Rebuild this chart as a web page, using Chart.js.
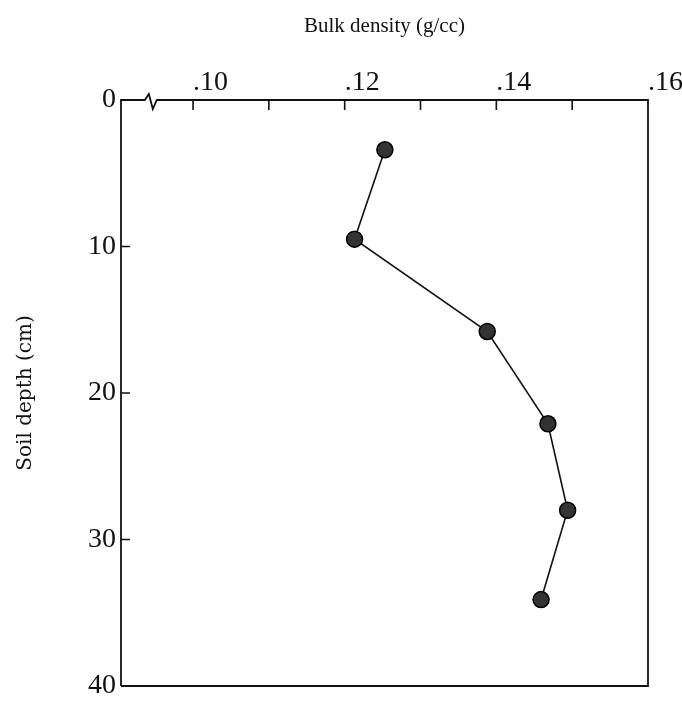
<!DOCTYPE html>
<html>
<head>
<meta charset="utf-8">
<script src="https://cdn.jsdelivr.net/npm/chart.js@4.4.1/dist/chart.umd.min.js"></script>
<style>
html, body { margin: 0; padding: 0; background: #fff; }
</style>
</head>
<body>
<canvas id="depthChart" width="682" height="705"></canvas>
<script>
// soil depth (cm) vs bulk density (g/cc)
const depthCm = [3.4, 9.5, 15.8, 22.1, 28.0, 34.1];
const bulkDensity = [0.1253, 0.1213, 0.1388, 0.1468, 0.1494, 0.1459];

const xLabelTicks = [0.10, 0.12, 0.14, 0.16];
const xMarkTicks = [0.10, 0.11, 0.12, 0.13, 0.14, 0.15];
const yLabelTicks = [0, 10, 20, 30, 40];
const yMarkTicks = [10, 20, 30];
const xBreakAt = 0.0943;

const serif = "'Liberation Serif', 'DejaVu Serif', serif";
const ink = '#111';

// box, axis break and inward tick marks
const framePlugin = {
  id: 'frame',
  beforeDatasetsDraw(chart) {
    const { ctx, chartArea: a, scales: { x, y } } = chart;
    ctx.save();
    ctx.strokeStyle = ink;
    ctx.lineWidth = 1.8;
    const bx = x.getPixelForValue(xBreakAt);
    ctx.beginPath();
    ctx.moveTo(a.left, a.bottom);
    ctx.lineTo(a.left, a.top);
    ctx.lineTo(bx - 5, a.top);
    ctx.lineTo(bx - 1, a.top - 6);
    ctx.lineTo(bx + 3, a.top + 9);
    ctx.lineTo(bx + 7, a.top);
    ctx.lineTo(a.right, a.top);
    ctx.lineTo(a.right, a.bottom);
    ctx.lineTo(a.left, a.bottom);
    ctx.stroke();

    ctx.lineWidth = 1.6;
    ctx.beginPath();
    xMarkTicks.forEach(v => {
      const px = x.getPixelForValue(v);
      ctx.moveTo(px, a.top);
      ctx.lineTo(px, a.top + 10);
    });
    yMarkTicks.forEach(v => {
      const py = y.getPixelForValue(v);
      ctx.moveTo(a.left, py);
      ctx.lineTo(a.left + 9, py);
    });
    ctx.stroke();
    ctx.restore();
  }
};

new Chart(document.getElementById('depthChart'), {
  type: 'scatter',
  data: {
    datasets: [{
      data: bulkDensity.map((v, i) => ({ x: v, y: depthCm[i] })),
      showLine: true,
      borderColor: ink,
      borderWidth: 1.6,
      pointRadius: 8,
      pointBackgroundColor: '#333',
      pointBorderColor: '#000',
      pointBorderWidth: 1.5
    }]
  },
  options: {
    responsive: false,
    animation: false,
    layout: { padding: { left: 0, top: 0, right: 34, bottom: 19 } },
    plugins: {
      legend: { display: false },
      tooltip: { enabled: false }
    },
    scales: {
      x: {
        type: 'linear',
        position: 'top',
        min: 0.0905,
        max: 0.16,
        afterBuildTicks: s => { s.ticks = xLabelTicks.map(v => ({ value: v })); },
        afterFit: s => { s.height = 100; s.paddingLeft = 0; s.paddingRight = 0; },
        ticks: {
          callback: v => '.' + Math.round(v * 100),
          align: 'start',
          padding: 1,
          maxRotation: 0,
          autoSkip: false,
          color: ink,
          font: { family: serif, size: 28 }
        },
        grid: { display: false, drawTicks: false },
        border: { display: false },
        title: {
          display: true,
          text: 'Bulk density (g/cc)',
          color: ink,
          font: { family: serif, size: 21 },
          padding: { top: 14, bottom: 10 }
        }
      },
      y: {
        type: 'linear',
        min: 0,
        max: 40,
        reverse: true,
        afterBuildTicks: s => { s.ticks = yLabelTicks.map(v => ({ value: v })); },
        afterFit: s => { s.width = 121; s.paddingTop = 0; s.paddingBottom = 0; },
        ticks: {
          padding: 5,
          color: ink,
          font: { family: serif, size: 28 }
        },
        grid: { display: false, drawTicks: false },
        border: { display: false },
        title: {
          display: true,
          text: 'Soil depth (cm)',
          color: ink,
          font: { family: "'DejaVu Serif', serif", size: 20 },
          padding: { top: 14, bottom: 10 }
        }
      }
    }
  },
  plugins: [framePlugin]
});
</script>
</body>
</html>
